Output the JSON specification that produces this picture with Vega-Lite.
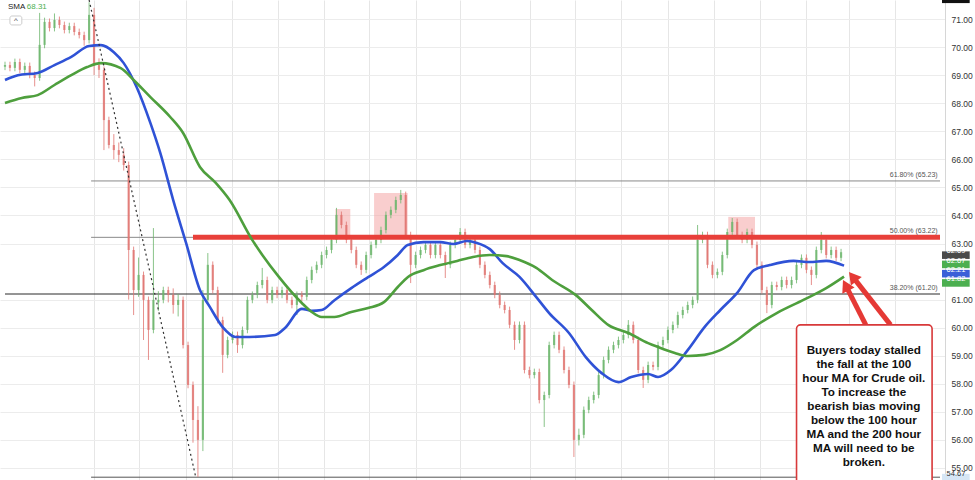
{
"$schema":"https://vega.github.io/schema/vega-lite/v6.json",
"width":945,"height":480,
"autosize":{"type":"none"},
"padding":{"left":0,"top":0,"right":30,"bottom":0},
"background":"white",
"config":{"view":{"stroke":null},"font":"Liberation Sans","axisY":{"labelOverlap":false,"labelFlush":false,"ticks":false,"labelPadding":6,"labelFontSize":8.5,"labelColor":"#333333","gridColor":"#ececec","domainColor":"#d6d6d6","title":null}},
"datasets":{
"candles":[
{"t":0,"o":69.30,"h":69.48,"l":69.18,"c":69.36},{"t":2.5,"o":69.36,"h":69.48,"l":69.14,"c":69.26},{"t":5,"o":69.26,"h":69.59,"l":69.14,"c":69.47},{"t":7.5,"o":69.47,"h":69.59,"l":69.07,"c":69.19},{"t":10,"o":69.19,"h":69.45,"l":69.07,"c":69.33},{"t":12.5,"o":69.33,"h":69.45,"l":68.89,"c":69.01},{"t":15,"o":69.01,"h":69.13,"l":68.60,"c":68.90},{"t":17.5,"o":68.90,"h":71.22,"l":68.80,"c":70.08},{"t":20,"o":70.08,"h":71.05,"l":69.96,"c":70.90},{"t":22.5,"o":70.90,"h":71.02,"l":70.56,"c":70.68},{"t":25,"o":70.68,"h":71.20,"l":70.56,"c":70.97},{"t":27.5,"o":70.97,"h":71.09,"l":70.67,"c":70.79},{"t":30,"o":70.79,"h":70.91,"l":70.49,"c":70.61},{"t":32.5,"o":70.61,"h":70.87,"l":70.49,"c":70.75},{"t":35,"o":70.75,"h":70.87,"l":70.42,"c":70.54},{"t":37.5,"o":70.54,"h":70.66,"l":70.31,"c":70.43},{"t":40,"o":70.43,"h":70.55,"l":70.05,"c":70.25},{"t":42.5,"o":70.25,"h":71.60,"l":70.13,"c":71.15},{"t":45,"o":71.15,"h":71.40,"l":69.00,"c":69.36},{"t":47.5,"o":69.36,"h":69.60,"l":68.90,"c":69.19},{"t":50,"o":69.19,"h":69.31,"l":66.33,"c":67.40},{"t":52.5,"o":67.40,"h":67.52,"l":66.39,"c":66.51},{"t":55,"o":66.51,"h":66.90,"l":66.00,"c":66.33},{"t":57.5,"o":66.33,"h":66.60,"l":65.90,"c":66.16},{"t":60,"o":66.16,"h":66.40,"l":65.60,"c":65.80},{"t":62.5,"o":65.80,"h":65.92,"l":61.00,"c":62.77},{"t":65,"o":62.77,"h":62.89,"l":60.45,"c":61.34},{"t":67.5,"o":61.34,"h":62.50,"l":61.10,"c":61.88},{"t":70,"o":61.88,"h":62.00,"l":59.56,"c":60.99},{"t":72.5,"o":60.99,"h":61.11,"l":58.85,"c":59.92},{"t":75,"o":59.92,"h":63.55,"l":59.80,"c":60.99},{"t":77.5,"o":60.90,"h":61.30,"l":60.60,"c":60.99},{"t":80,"o":60.99,"h":61.46,"l":60.87,"c":61.34},{"t":82.5,"o":61.34,"h":61.46,"l":60.90,"c":61.17},{"t":85,"o":61.17,"h":61.40,"l":60.50,"c":60.81},{"t":87.5,"o":60.81,"h":61.20,"l":60.40,"c":60.99},{"t":90,"o":60.99,"h":61.11,"l":59.26,"c":59.38},{"t":92.5,"o":59.38,"h":59.50,"l":57.84,"c":57.96},{"t":95,"o":57.96,"h":58.08,"l":55.90,"c":56.71},{"t":97.5,"o":56.71,"h":57.20,"l":54.68,"c":56.00},{"t":100,"o":56.00,"h":61.34,"l":55.60,"c":60.99},{"t":102.5,"o":60.99,"h":62.66,"l":60.87,"c":62.24},{"t":105,"o":62.24,"h":62.36,"l":61.22,"c":61.34},{"t":107.5,"o":61.34,"h":61.46,"l":60.15,"c":60.27},{"t":110,"o":60.27,"h":60.39,"l":58.39,"c":59.03},{"t":112.5,"o":59.03,"h":59.68,"l":58.91,"c":59.56},{"t":115,"o":59.56,"h":59.86,"l":59.44,"c":59.74},{"t":117.5,"o":59.74,"h":59.86,"l":59.10,"c":59.38},{"t":120,"o":59.38,"h":60.04,"l":59.26,"c":59.92},{"t":122.5,"o":59.92,"h":61.11,"l":59.80,"c":60.99},{"t":125,"o":60.99,"h":61.29,"l":60.87,"c":61.17},{"t":127.5,"o":61.17,"h":61.64,"l":61.05,"c":61.52},{"t":130,"o":61.52,"h":62.13,"l":61.40,"c":61.70},{"t":132.5,"o":61.70,"h":61.82,"l":60.87,"c":60.99},{"t":135,"o":60.99,"h":61.46,"l":60.87,"c":61.34},{"t":137.5,"o":61.34,"h":61.46,"l":61.05,"c":61.17},{"t":140,"o":61.17,"h":61.46,"l":61.05,"c":61.34},{"t":142.5,"o":61.34,"h":61.46,"l":60.87,"c":60.99},{"t":145,"o":60.99,"h":61.11,"l":60.69,"c":60.81},{"t":147.5,"o":60.81,"h":61.29,"l":60.45,"c":61.17},{"t":150,"o":61.17,"h":61.30,"l":60.95,"c":61.10},{"t":152.5,"o":61.10,"h":61.82,"l":60.98,"c":61.70},{"t":155,"o":61.70,"h":62.18,"l":61.58,"c":62.06},{"t":157.5,"o":62.06,"h":62.36,"l":61.94,"c":62.24},{"t":160,"o":62.24,"h":62.71,"l":62.12,"c":62.59},{"t":162.5,"o":62.59,"h":62.89,"l":62.47,"c":62.77},{"t":165,"o":62.77,"h":63.25,"l":62.65,"c":63.13},{"t":167.5,"o":63.13,"h":64.27,"l":63.01,"c":64.02},{"t":170,"o":64.02,"h":64.14,"l":63.54,"c":63.66},{"t":172.5,"o":63.66,"h":63.78,"l":63.01,"c":63.13},{"t":175,"o":63.13,"h":63.25,"l":62.65,"c":62.77},{"t":177.5,"o":62.77,"h":62.89,"l":62.12,"c":62.24},{"t":180,"o":62.24,"h":62.36,"l":61.88,"c":62.06},{"t":182.5,"o":62.06,"h":62.71,"l":61.94,"c":62.59},{"t":185,"o":62.59,"h":63.07,"l":62.47,"c":62.95},{"t":187.5,"o":62.95,"h":63.25,"l":62.83,"c":63.13},{"t":190,"o":63.13,"h":63.60,"l":63.01,"c":63.48},{"t":192.5,"o":63.48,"h":64.14,"l":63.36,"c":64.02},{"t":195,"o":64.02,"h":64.32,"l":63.90,"c":64.20},{"t":197.5,"o":64.20,"h":64.67,"l":64.08,"c":64.55},{"t":200,"o":64.55,"h":64.91,"l":64.43,"c":64.73},{"t":202.5,"o":64.73,"h":64.85,"l":63.18,"c":63.30},{"t":205,"o":63.30,"h":63.42,"l":61.59,"c":62.24},{"t":207.5,"o":62.24,"h":62.71,"l":62.12,"c":62.59},{"t":210,"o":62.59,"h":62.89,"l":62.47,"c":62.77},{"t":212.5,"o":62.77,"h":63.07,"l":62.65,"c":62.95},{"t":215,"o":62.95,"h":63.07,"l":62.47,"c":62.59},{"t":217.5,"o":62.59,"h":63.07,"l":62.47,"c":62.95},{"t":220,"o":62.95,"h":63.07,"l":62.47,"c":62.59},{"t":222.5,"o":62.59,"h":62.71,"l":61.77,"c":62.24},{"t":225,"o":62.24,"h":63.07,"l":62.12,"c":62.95},{"t":227.5,"o":62.95,"h":63.25,"l":62.83,"c":63.13},{"t":230,"o":63.13,"h":63.55,"l":63.01,"c":63.41},{"t":232.5,"o":63.41,"h":63.53,"l":62.83,"c":62.95},{"t":235,"o":62.95,"h":63.25,"l":62.83,"c":63.13},{"t":237.5,"o":63.13,"h":63.25,"l":62.65,"c":62.77},{"t":240,"o":62.77,"h":62.89,"l":62.12,"c":62.24},{"t":242.5,"o":62.24,"h":62.36,"l":61.76,"c":61.88},{"t":245,"o":61.88,"h":62.00,"l":61.40,"c":61.52},{"t":247.5,"o":61.52,"h":61.64,"l":61.05,"c":61.17},{"t":250,"o":61.17,"h":61.29,"l":60.69,"c":60.81},{"t":252.5,"o":60.81,"h":60.93,"l":60.51,"c":60.63},{"t":255,"o":60.63,"h":60.75,"l":59.98,"c":60.10},{"t":257.5,"o":60.10,"h":60.22,"l":59.21,"c":59.56},{"t":260,"o":59.56,"h":60.22,"l":59.44,"c":60.10},{"t":262.5,"o":60.10,"h":60.22,"l":58.37,"c":58.49},{"t":265,"o":58.49,"h":58.61,"l":58.19,"c":58.31},{"t":267.5,"o":58.31,"h":58.54,"l":58.19,"c":58.42},{"t":270,"o":58.42,"h":58.54,"l":57.30,"c":57.42},{"t":272.5,"o":57.42,"h":57.72,"l":56.46,"c":57.60},{"t":275,"o":57.60,"h":59.50,"l":57.48,"c":59.38},{"t":277.5,"o":59.38,"h":59.86,"l":59.26,"c":59.74},{"t":280,"o":59.74,"h":59.86,"l":59.09,"c":59.21},{"t":282.5,"o":59.21,"h":59.33,"l":58.37,"c":58.49},{"t":285,"o":58.49,"h":58.61,"l":57.84,"c":57.96},{"t":287.5,"o":57.96,"h":58.08,"l":55.39,"c":56.00},{"t":290,"o":56.00,"h":56.40,"l":55.80,"c":56.18},{"t":292.5,"o":56.18,"h":57.19,"l":56.06,"c":57.07},{"t":295,"o":57.07,"h":57.54,"l":56.95,"c":57.42},{"t":297.5,"o":57.42,"h":57.72,"l":57.30,"c":57.60},{"t":300,"o":57.60,"h":58.43,"l":57.48,"c":58.31},{"t":302.5,"o":58.31,"h":58.97,"l":58.19,"c":58.85},{"t":305,"o":58.85,"h":59.33,"l":58.73,"c":59.21},{"t":307.5,"o":59.21,"h":59.50,"l":59.09,"c":59.38},{"t":310,"o":59.38,"h":59.68,"l":59.26,"c":59.56},{"t":312.5,"o":59.56,"h":59.86,"l":59.44,"c":59.74},{"t":315,"o":59.74,"h":60.27,"l":59.62,"c":60.10},{"t":317.5,"o":60.10,"h":60.22,"l":59.44,"c":59.56},{"t":320,"o":59.56,"h":59.68,"l":58.37,"c":58.49},{"t":322.5,"o":58.49,"h":58.61,"l":57.85,"c":58.14},{"t":325,"o":58.14,"h":58.79,"l":58.02,"c":58.67},{"t":327.5,"o":58.67,"h":58.79,"l":58.48,"c":58.60},{"t":330,"o":58.60,"h":59.50,"l":58.48,"c":59.38},{"t":332.5,"o":59.38,"h":59.68,"l":59.26,"c":59.56},{"t":335,"o":59.56,"h":60.04,"l":59.44,"c":59.92},{"t":337.5,"o":59.92,"h":60.22,"l":59.80,"c":60.10},{"t":340,"o":60.10,"h":60.57,"l":59.98,"c":60.45},{"t":342.5,"o":60.45,"h":60.75,"l":60.33,"c":60.63},{"t":345,"o":60.63,"h":60.93,"l":60.51,"c":60.81},{"t":347.5,"o":60.81,"h":61.11,"l":60.69,"c":60.99},{"t":350,"o":60.99,"h":63.66,"l":60.87,"c":63.13},{"t":352.5,"o":63.13,"h":63.42,"l":63.01,"c":63.30},{"t":355,"o":63.30,"h":63.42,"l":62.12,"c":62.24},{"t":357.5,"o":62.24,"h":62.36,"l":61.76,"c":61.88},{"t":360,"o":61.88,"h":62.11,"l":61.76,"c":61.99},{"t":362.5,"o":61.99,"h":62.71,"l":61.87,"c":62.59},{"t":365,"o":62.59,"h":63.53,"l":62.47,"c":63.41},{"t":367.5,"o":63.41,"h":63.91,"l":63.29,"c":63.77},{"t":370,"o":63.77,"h":63.89,"l":63.18,"c":63.30},{"t":372.5,"o":63.30,"h":63.42,"l":63.01,"c":63.13},{"t":375,"o":63.13,"h":63.53,"l":63.01,"c":63.41},{"t":377.5,"o":63.41,"h":63.53,"l":62.83,"c":62.95},{"t":380,"o":62.95,"h":63.07,"l":62.12,"c":62.24},{"t":382.5,"o":62.24,"h":62.36,"l":61.22,"c":61.34},{"t":385,"o":61.34,"h":61.46,"l":60.52,"c":60.81},{"t":387.5,"o":60.81,"h":61.64,"l":60.69,"c":61.52},{"t":390,"o":61.52,"h":61.64,"l":61.33,"c":61.45},{"t":392.5,"o":61.45,"h":61.82,"l":61.33,"c":61.70},{"t":395,"o":61.70,"h":61.82,"l":61.40,"c":61.52},{"t":397.5,"o":61.52,"h":61.82,"l":61.40,"c":61.70},{"t":400,"o":61.70,"h":62.36,"l":61.58,"c":62.24},{"t":402.5,"o":62.24,"h":62.61,"l":62.12,"c":62.49},{"t":405,"o":62.49,"h":62.61,"l":61.94,"c":62.06},{"t":407.5,"o":62.06,"h":62.18,"l":61.52,"c":61.88},{"t":410,"o":61.88,"h":62.89,"l":61.76,"c":62.77},{"t":412.5,"o":62.77,"h":63.41,"l":62.65,"c":63.13},{"t":415,"o":63.13,"h":63.25,"l":62.47,"c":62.59},{"t":417.5,"o":62.59,"h":62.89,"l":62.47,"c":62.77},{"t":420,"o":62.77,"h":62.89,"l":62.37,"c":62.49},{"t":422.5,"o":62.49,"h":62.81,"l":62.37,"c":62.69}
],
"ma":[
{"t":0,"p":68.83,"ma":"100"},{"t":6.5,"p":69.00,"ma":"100"},{"t":16.5,"p":69.08,"ma":"100"},{"t":25,"p":69.36,"ma":"100"},{"t":33.5,"p":69.65,"ma":"100"},{"t":42.5,"p":70.04,"ma":"100"},{"t":48.5,"p":70.07,"ma":"100"},{"t":55,"p":69.82,"ma":"100"},{"t":60,"p":69.43,"ma":"100"},{"t":66.5,"p":68.58,"ma":"100"},{"t":73.5,"p":67.29,"ma":"100"},{"t":78.5,"p":66.22,"ma":"100"},{"t":85,"p":64.55,"ma":"100"},{"t":91.5,"p":63.02,"ma":"100"},{"t":98.5,"p":61.34,"ma":"100"},{"t":103.5,"p":60.74,"ma":"100"},{"t":110,"p":60.02,"ma":"100"},{"t":116.5,"p":59.67,"ma":"100"},{"t":123.5,"p":59.67,"ma":"100"},{"t":136.5,"p":59.74,"ma":"100"},{"t":141.5,"p":59.99,"ma":"100"},{"t":150,"p":60.67,"ma":"100"},{"t":155,"p":60.60,"ma":"100"},{"t":160,"p":60.63,"ma":"100"},{"t":166.5,"p":60.98,"ma":"100"},{"t":175,"p":61.41,"ma":"100"},{"t":183.5,"p":61.80,"ma":"100"},{"t":191.5,"p":62.16,"ma":"100"},{"t":198.5,"p":62.59,"ma":"100"},{"t":203.5,"p":62.95,"ma":"100"},{"t":211.5,"p":63.05,"ma":"100"},{"t":220,"p":63.05,"ma":"100"},{"t":226.5,"p":62.98,"ma":"100"},{"t":233.5,"p":63.09,"ma":"100"},{"t":238.5,"p":63.02,"ma":"100"},{"t":245,"p":62.80,"ma":"100"},{"t":251.5,"p":62.30,"ma":"100"},{"t":260,"p":61.81,"ma":"100"},{"t":268.5,"p":61.09,"ma":"100"},{"t":275,"p":60.52,"ma":"100"},{"t":285,"p":59.81,"ma":"100"},{"t":293.5,"p":58.95,"ma":"100"},{"t":301.5,"p":58.38,"ma":"100"},{"t":310,"p":58.06,"ma":"100"},{"t":316.5,"p":58.24,"ma":"100"},{"t":325,"p":58.35,"ma":"100"},{"t":330,"p":58.24,"ma":"100"},{"t":336.5,"p":58.49,"ma":"100"},{"t":345,"p":59.20,"ma":"100"},{"t":353.5,"p":60.02,"ma":"100"},{"t":361.5,"p":60.63,"ma":"100"},{"t":370,"p":61.24,"ma":"100"},{"t":378.5,"p":62.05,"ma":"100"},{"t":386.5,"p":62.23,"ma":"100"},{"t":398.5,"p":62.38,"ma":"100"},{"t":406.5,"p":62.34,"ma":"100"},{"t":415,"p":62.38,"ma":"100"},{"t":424,"p":62.21,"ma":"100"},
{"t":0,"p":68.01,"ma":"200"},{"t":8.5,"p":68.19,"ma":"200"},{"t":16.5,"p":68.29,"ma":"200"},{"t":25,"p":68.65,"ma":"200"},{"t":33.5,"p":69.00,"ma":"200"},{"t":41.5,"p":69.29,"ma":"200"},{"t":48.5,"p":69.43,"ma":"200"},{"t":58.5,"p":69.25,"ma":"200"},{"t":65,"p":68.83,"ma":"200"},{"t":73.5,"p":68.22,"ma":"200"},{"t":83.5,"p":67.51,"ma":"200"},{"t":90,"p":66.94,"ma":"200"},{"t":98.5,"p":65.73,"ma":"200"},{"t":106.5,"p":65.16,"ma":"200"},{"t":113.5,"p":64.55,"ma":"200"},{"t":125,"p":63.12,"ma":"200"},{"t":138.5,"p":61.80,"ma":"200"},{"t":150,"p":60.88,"ma":"200"},{"t":155,"p":60.56,"ma":"200"},{"t":160,"p":60.38,"ma":"200"},{"t":166.5,"p":60.38,"ma":"200"},{"t":175,"p":60.56,"ma":"200"},{"t":183.5,"p":60.70,"ma":"200"},{"t":191.5,"p":60.91,"ma":"200"},{"t":198.5,"p":61.45,"ma":"200"},{"t":203.5,"p":61.80,"ma":"200"},{"t":211.5,"p":62.05,"ma":"200"},{"t":220,"p":62.23,"ma":"200"},{"t":228.5,"p":62.38,"ma":"200"},{"t":236.5,"p":62.52,"ma":"200"},{"t":245,"p":62.59,"ma":"200"},{"t":253.5,"p":62.55,"ma":"200"},{"t":260,"p":62.41,"ma":"200"},{"t":268.5,"p":62.13,"ma":"200"},{"t":276.5,"p":61.70,"ma":"200"},{"t":288.5,"p":61.16,"ma":"200"},{"t":296.5,"p":60.63,"ma":"200"},{"t":305,"p":60.09,"ma":"200"},{"t":315,"p":59.81,"ma":"200"},{"t":325,"p":59.45,"ma":"200"},{"t":330,"p":59.31,"ma":"200"},{"t":338.5,"p":59.10,"ma":"200"},{"t":345,"p":58.99,"ma":"200"},{"t":353.5,"p":59.03,"ma":"200"},{"t":361.5,"p":59.20,"ma":"200"},{"t":370,"p":59.56,"ma":"200"},{"t":378.5,"p":60.02,"ma":"200"},{"t":390,"p":60.52,"ma":"200"},{"t":403.5,"p":60.99,"ma":"200"},{"t":415,"p":61.41,"ma":"200"},{"t":424,"p":61.82,"ma":"200"}
],
"boxes":[{"t":167,"t2":174.5,"p1":64.23,"p2":63.20},{"t":186.5,"t2":203.5,"p1":64.80,"p2":63.20},{"t":365.5,"t2":379,"p1":63.95,"p2":63.20}],
"fib":[{"t":43.5,"t2":472.5,"p":65.23,"col":"#8a8a8a"},{"t":43.5,"t2":472.5,"p":63.22,"col":"#8a8a8a"},{"t":0,"t2":472.5,"p":61.20,"col":"#2a2a2a"},{"t":43.5,"t2":472.5,"p":54.67,"col":"#555555"}],
"fiblab":[{"t":471.3,"p":65.23,"lab":"61.80% (65.23)"},{"t":471.3,"p":63.22,"lab":"50.00% (63.22)"},{"t":471.3,"p":61.20,"lab":"38.20% (61.20)"}],
"resist":[{"t":95,"t2":472.5,"p":63.22}],
"trend":[{"t":42.5,"p":71.68},{"t":96.5,"p":54.64}],
"arrows":[{"t":435,"t2":424.85,"p":60.10,"p2":61.51},{"t":447.5,"t2":428.35,"p":60.10,"p2":61.82}],
"heads":[{"t":424.85,"p":61.51,"ang":333},{"t":428.35,"p":61.82,"ang":322}],
"note":[{"t":400,"t2":468.5,"p1":60.10,"p2":54.2}],
"notetext":[{"t":434,"p":59.38,"txt":"Buyers today stalled\nthe fall at the 100\nhour MA for Crude oil.\nTo increase the\nbearish bias moving\nbelow the 100 hour\nMA and the 200 hour\nMA will need to be\nbroken."}],
"legend":[{"t":1.5,"p":71.43,"txt":"SMA","col":"#222222"},{"t":11,"p":71.43,"txt":"68.31","col":"#4caf50"}],
"button":[{"t":2.5,"t2":8.5,"p1":71.11,"p2":70.79}],
"buttontext":[{"t":5.5,"p":70.93,"txt":"^"}],
"badges":[{"t":473.5,"t2":487.5,"p1":62.72,"p2":62.45,"lab":"62.69","bg":"#4a4a4a","fg":"#ffffff"},{"t":473.5,"t2":487.5,"p1":62.39,"p2":62.12,"lab":"62.67","bg":"#4caf50","fg":"#ffffff"},{"t":473.5,"t2":487.5,"p1":62.06,"p2":61.79,"lab":"62.21","bg":"#3a5fd8","fg":"#ffffff"},{"t":473.5,"t2":487.5,"p1":61.73,"p2":61.46,"lab":"61.82","bg":"#4caf50","fg":"#ffffff"},{"t":473.5,"t2":487.5,"p1":54.79,"p2":54.57,"lab":"54.67","bg":"#d6e6f5","fg":"#333333"},{"t":473.5,"t2":487.5,"p1":71.68,"p2":71.57,"lab":"","bg":"#111111","fg":"#ffffff"}]
},
"encoding":{"x":{"field":"t","type":"quantitative","scale":{"domain":[0,472.5],"nice":false,"zero":false},"axis":{"values":[45,67.5,91.5,114.5,138,161,184,207.5,230,265.5,288,311.5,335,358.5,381.5,405,426.5,450],"tickCount":30,"grid":true,"gridColor":"#e6e6e6","labels":false,"ticks":false,"domain":false,"title":null}}},
"layer":[
{"data":{"name":"boxes"},"mark":{"type":"rect","color":"#f4a6a6","opacity":0.55},
 "encoding":{"x2":{"field":"t2"},"y":{"field":"p1","type":"quantitative","title":null,"scale":{"domain":[54.57,71.68],"nice":false,"zero":false},"axis":{"orient":"right","values":[55,56,57,58,59,60,61,63,64,65,66,67,68,69,70,71],"tickCount":30,"format":".2f","grid":true,"labelOverlap":false,"domain":true,"title":null}},"y2":{"field":"p2"}}},
{"data":{"name":"fib"},"mark":{"type":"rule","strokeWidth":1},
 "encoding":{"x2":{"field":"t2"},"y":{"field":"p","type":"quantitative","title":null},"color":{"field":"col","type":"nominal","scale":null}}},
{"data":{"name":"fiblab"},"mark":{"type":"text","align":"right","baseline":"bottom","dy":-3,"fontSize":7,"color":"#555555"},
 "encoding":{"y":{"field":"p","type":"quantitative","title":null},"text":{"field":"lab"}}},
{"data":{"name":"candles"},"mark":{"type":"rule","strokeWidth":1,"opacity":0.8},
 "encoding":{"y":{"field":"l","type":"quantitative","title":null},"y2":{"field":"h"},"color":{"condition":{"test":"datum.c >= datum.o","value":"#6cb56c"},"value":"#e07470"}}},
{"data":{"name":"candles"},"mark":{"type":"bar","size":2.2,"opacity":0.8},
 "encoding":{"y":{"field":"o","type":"quantitative","title":null},"y2":{"field":"c"},"color":{"condition":{"test":"datum.c >= datum.o","value":"#6cb56c"},"value":"#e07470"}}},
{"data":{"name":"resist"},"mark":{"type":"rule","strokeWidth":5,"color":"#e8403a"},
 "encoding":{"x2":{"field":"t2"},"y":{"field":"p","type":"quantitative","title":null}}},
{"data":{"name":"ma"},"mark":{"type":"line","strokeWidth":2.6,"interpolate":"monotone"},
 "encoding":{"y":{"field":"p","type":"quantitative","title":null},"color":{"field":"ma","type":"nominal","scale":{"domain":["100","200"],"range":["#2f52d6","#4e9f3d"]},"legend":null}}},
{"data":{"name":"trend"},"mark":{"type":"line","strokeWidth":1.2,"strokeDash":[2,3],"color":"#333333"},
 "encoding":{"y":{"field":"p","type":"quantitative","title":null}}},
{"data":{"name":"arrows"},"mark":{"type":"rule","strokeWidth":5,"color":"#e53935"},
 "encoding":{"x2":{"field":"t2"},"y":{"field":"p","type":"quantitative","title":null},"y2":{"field":"p2"}}},
{"data":{"name":"heads"},"mark":{"type":"point","shape":"triangle-up","filled":true,"size":190,"color":"#e53935","opacity":1},
 "encoding":{"y":{"field":"p","type":"quantitative","title":null},"angle":{"field":"ang","type":"quantitative","scale":null}}},
{"data":{"name":"note"},"mark":{"type":"rect","fill":"#ffffff","stroke":"#d8393a","strokeWidth":1.6,"cornerRadius":4},
 "encoding":{"x2":{"field":"t2"},"y":{"field":"p1","type":"quantitative","title":null},"y2":{"field":"p2"}}},
{"data":{"name":"notetext"},"mark":{"type":"text","align":"center","baseline":"top","lineBreak":"\n","lineHeight":14,"fontSize":11.7,"fontWeight":"bold","color":"#111111"},
 "encoding":{"y":{"field":"p","type":"quantitative","title":null},"text":{"field":"txt"}}},
{"data":{"name":"legend"},"mark":{"type":"text","align":"left","baseline":"middle","fontSize":8},
 "encoding":{"y":{"field":"p","type":"quantitative","title":null},"text":{"field":"txt"},"color":{"field":"col","type":"nominal","scale":null}}},
{"data":{"name":"button"},"mark":{"type":"rect","fill":"#ffffff","stroke":"#cccccc","strokeWidth":1,"cornerRadius":2},
 "encoding":{"x2":{"field":"t2"},"y":{"field":"p1","type":"quantitative","title":null},"y2":{"field":"p2"}}},
{"data":{"name":"buttontext"},"mark":{"type":"text","align":"center","baseline":"middle","fontSize":8,"color":"#444444"},
 "encoding":{"y":{"field":"p","type":"quantitative","title":null},"text":{"field":"txt"}}},
{"data":{"name":"badges"},"mark":{"type":"rect"},
 "encoding":{"x2":{"field":"t2"},"y":{"field":"p1","type":"quantitative","title":null},"y2":{"field":"p2"},"color":{"field":"bg","type":"nominal","scale":null}}},
{"data":{"name":"badges"},"mark":{"type":"text","align":"center","baseline":"middle","fontSize":7.5,"dx":14},
 "encoding":{"y":{"field":"p1","type":"quantitative","title":null},"y2":{"field":"p2"},"text":{"field":"lab"},"color":{"field":"fg","type":"nominal","scale":null}}}
]
}
